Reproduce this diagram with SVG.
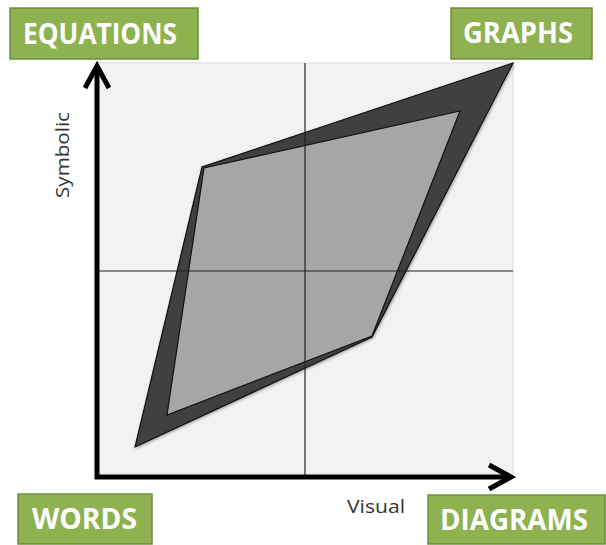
<svg xmlns="http://www.w3.org/2000/svg" width="606" height="545" viewBox="0 0 606 545">
  <style>
    .box { fill: #8db24f; stroke: #6f8e3c; stroke-width: 1.5; }
    .boxtext { font-family: "Open Sans", "Liberation Sans", sans-serif; font-weight: bold; font-size: 28px; fill: #ffffff; }
    .axislabel { font-family: "Open Sans", "Liberation Sans", sans-serif; font-size: 19px; fill: #333333; }
    .grid { stroke: #222222; stroke-width: 1.2; fill: none; }
    .axis { stroke: #000000; stroke-width: 5; fill: none; }
  </style>
  <defs>
    <marker id="chev" markerUnits="userSpaceOnUse" markerWidth="40" markerHeight="40" viewBox="-30 -20 40 40" refX="0" refY="0" orient="auto-start-reverse" overflow="visible">
      <path d="M-22,-12 L0,0 L-22,12" fill="none" stroke="#000000" stroke-width="5" stroke-linejoin="miter"/>
    </marker>
    <filter id="soft" x="-10%" y="-10%" width="120%" height="120%">
      <feGaussianBlur in="SourceAlpha" stdDeviation="1.5"/>
      <feOffset dx="1" dy="1" result="b"/>
      <feComponentTransfer><feFuncA type="linear" slope="0.35"/></feComponentTransfer>
      <feMerge><feMergeNode/><feMergeNode in="SourceGraphic"/></feMerge>
    </filter>
  </defs>

  <rect id="plot-bg" x="97" y="63" width="416" height="414" fill="#f2f2f2" stroke="#dcdcdc" stroke-width="1"/>

  <g id="outer-region" filter="url(#soft)">
    <polygon points="513,63 202,167 135,447 372,337" fill="#404040" stroke="#111111" stroke-width="1.2" stroke-linejoin="miter"/>
  </g>
  <g id="inner-region">
    <polygon points="204,168 460,111 372,336 167,415" fill="#a6a6a6" stroke="#111111" stroke-width="1.2"/>
  </g>

  <g id="grid">
    <line class="grid" x1="305" y1="63" x2="305" y2="477"/>
    <line class="grid" x1="97" y1="271" x2="513" y2="271"/>
  </g>

  <g id="connectors">
    <path class="axis" d="M97,66 L97,477 L511,477" marker-start="url(#chev)" marker-end="url(#chev)"/>
  </g>

  <text class="axislabel" transform="translate(69,155) rotate(-90)" text-anchor="middle" textLength="86" lengthAdjust="spacingAndGlyphs">Symbolic</text>
  <text class="axislabel" x="347" y="513" textLength="58" lengthAdjust="spacingAndGlyphs">Visual</text>

  <g id="equations">
    <rect class="box" x="10" y="8" width="188" height="51"/>
    <text class="boxtext" x="23" y="44" textLength="154" lengthAdjust="spacingAndGlyphs">EQUATIONS</text>
  </g>
  <g id="graphs">
    <rect class="box" x="451" y="8" width="141" height="51"/>
    <text class="boxtext" x="463" y="43" textLength="110" lengthAdjust="spacingAndGlyphs">GRAPHS</text>
  </g>
  <g id="words">
    <rect class="box" x="18" y="494" width="134" height="50"/>
    <text class="boxtext" x="32" y="529" textLength="105" lengthAdjust="spacingAndGlyphs">WORDS</text>
  </g>
  <g id="diagrams">
    <rect class="box" x="428" y="495" width="177" height="49"/>
    <text class="boxtext" x="440" y="530" textLength="148" lengthAdjust="spacingAndGlyphs">DIAGRAMS</text>
  </g>
</svg>
